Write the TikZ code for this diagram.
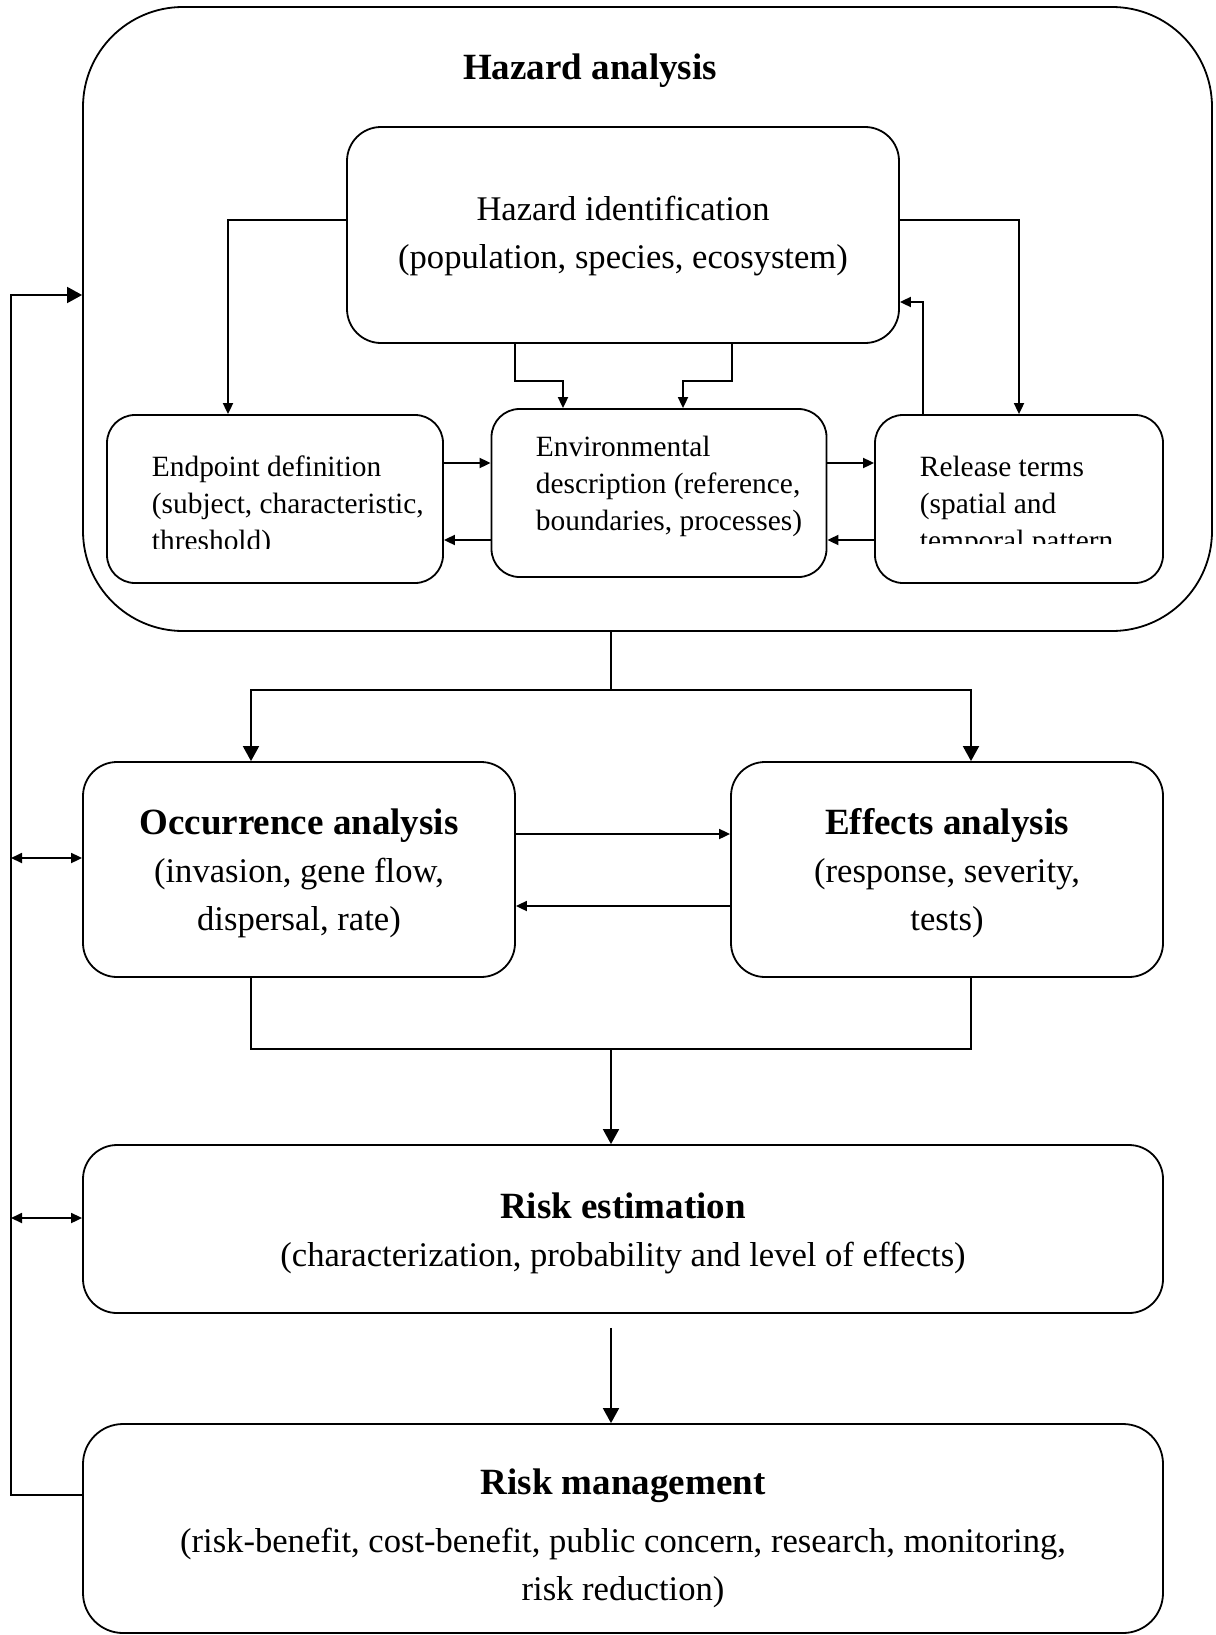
\documentclass[tikz,border=0pt]{standalone}
\usepackage{fontspec}
\setmainfont{Liberation Serif}
\usetikzlibrary{arrows.meta}
\newcommand{\head}[2][34pt]{{\fontsize{37}{48}\selectfont\bfseries\rule{0pt}{#1}#2}}

\begin{document}
\begin{tikzpicture}[x=1pt, y=-1pt, line width=1.8pt,
  box/.style = {draw, rounded corners=34pt, inner sep=0pt, font=\fontsize{34.6}{48}\selectfont, align=center},
  small/.style = {draw, rounded corners=28pt, inner sep=0pt, minimum height=168pt},
  stxt/.style = {font=\fontsize{29.4}{37}\selectfont, align=left, anchor=west, inner sep=0pt},
  big/.style = {-{Triangle[length=15pt,width=16pt]}},
  lit/.style = {-{Triangle[length=11pt,width=10pt]}},
  dbl/.style = {{Triangle[length=11pt,width=10pt]}-{Triangle[length=11pt,width=10pt]}}]
		\useasboundingbox (0,0) rectangle (1215,1635);
		\node[box, rounded corners=100pt, minimum width=1129pt, minimum height=624pt] (hazard) at (647.5,319) {};
		\node[font=\fontsize{37}{44}\selectfont\bfseries] (title) at (590,71) {Hazard analysis};
		\node[box, minimum width=552pt, minimum height=216pt] (hazid) at (623,235) {\rule{0pt}{27pt}Hazard identification\\(population, species, ecosystem)};
		\node[small, minimum width=336pt] (endpt) at (275,499) {};
		\node[small, minimum width=335pt] (envdesc) at (659,493) {};
		\node[small, minimum width=288pt] (release) at (1019,499) {};
		\begin{scope}
			\clip (107,415) rectangle (443,548);
			\node[stxt] (endtxt) at (151,506) {Endpoint definition\\(subject, characteristic,\\threshold)};
		\end{scope}
		\node[stxt] (envtxt) at (535,486) {Environmental\\description (reference,\\boundaries, processes)};
		\begin{scope}
			\clip (875,415) rectangle (1163,543);
			\node[stxt] (reltxt) at (919,506) {Release terms\\(spatial and\\temporal pattern};
		\end{scope}
		\node[box, minimum width=432pt, minimum height=215pt] (occur) at (299,869.5) {\head{Occurrence analysis}\\(invasion, gene flow,\\dispersal, rate)};
		\node[box, minimum width=432pt, minimum height=215pt] (effects) at (947,869.5) {\head{Effects analysis}\\(response, severity,\\tests)};
		\node[box, minimum width=1080pt, minimum height=168pt] (riskest) at (623,1229) {\head{Risk estimation}\\(characterization, probability and level of effects)};
		\node[box, rounded corners=40pt, minimum width=1080pt, minimum height=209pt] (riskman) at (623,1528.5) {\head[46pt]{Risk management}\\[10pt](risk-benefit, cost-benefit, public concern, research, monitoring,\\risk reduction)};
		\coordinate (split) at (611,690);
		\coordinate (merge) at (611,1049);
		\coordinate (left) at (11,1495);
		\draw[lit] ([yshift=15pt]hazid.west) -| ([xshift=-47pt]endpt.north);
		\draw[lit] ([yshift=15pt]hazid.east) -| (release.north);
		\draw[lit] ([xshift=-96pt]release.north) |- ([yshift=-67pt]hazid.east);
		\draw[lit] ([xshift=-108pt]hazid.south) -- ++(0,37) -| ([xshift=-96pt]envdesc.north);
		\draw[lit] ([xshift=109pt]hazid.south) -- ++(0,37) -| ([xshift=24pt]envdesc.north);
		\draw[lit] ([yshift=36pt]endpt.east) -- ([yshift=36pt]endpt.east -| envdesc.west);
		\draw[lit] ([yshift=-41pt]endpt.east -| envdesc.west) -- ([yshift=-41pt]endpt.east);
		\draw[lit] ([yshift=36pt]release.west -| envdesc.east) -- ([yshift=36pt]release.west);
		\draw[lit] ([yshift=-41pt]release.west) -- ([yshift=-41pt]release.west -| envdesc.east);
		\draw (hazard.south -| split) -- (split);
		\draw[big] (split) -| ([xshift=-48pt]occur.north);
		\draw[big] (split) -| ([xshift=24pt]effects.north);
		\draw[lit] ([yshift=35.5pt]occur.east) -- ([yshift=35.5pt]occur.east -| effects.west);
		\draw[lit] ([yshift=-36.5pt]effects.west) -- ([yshift=-36.5pt]effects.west -| occur.east);
		\draw ([xshift=-48pt]occur.south) |- (merge) -| ([xshift=24pt]effects.south);
		\draw[big] (merge) -- (merge |- riskest.north);
		\draw[big] ([xshift=-12pt,yshift=-14pt]riskest.south) -- ([xshift=-12pt]riskest.south |- riskman.north);
		\draw[big] ([yshift=33.5pt]riskman.west) -- (left) |- ([yshift=24pt]hazard.west);
		\draw[dbl] ([yshift=11.5pt]occur.west -| left) -- ([yshift=11.5pt]occur.west);
		\draw[dbl] ([yshift=11pt]riskest.west -| left) -- ([yshift=11pt]riskest.west);
\end{tikzpicture}
\end{document}
